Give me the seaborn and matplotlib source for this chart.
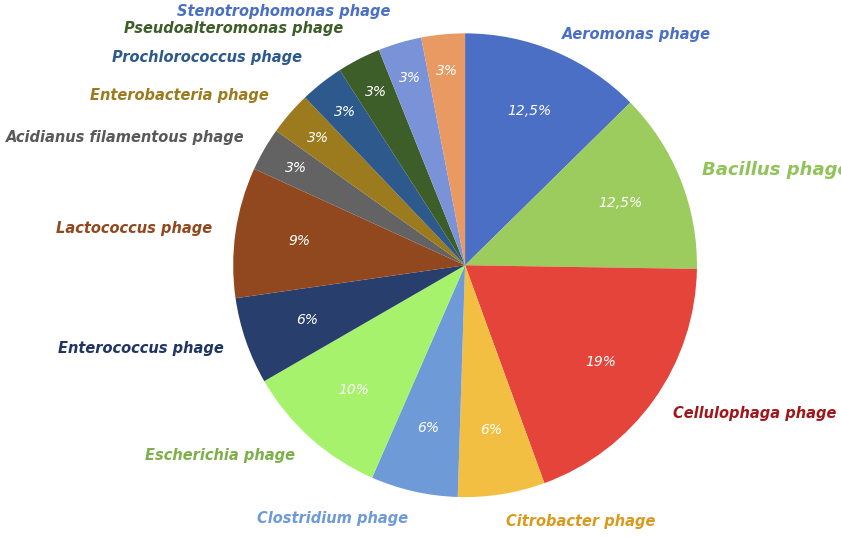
import matplotlib
matplotlib.use("Agg")
import matplotlib.pyplot as plt
import seaborn as sns
import numpy as np

names = ["Aeromonas phage", "Bacillus phage", "Cellulophaga phage", "Citrobacter phage",
         "Clostridium phage", "Escherichia phage", "Enterococcus phage", "Lactococcus phage",
         "Acidianus filamentous phage", "Enterobacteria phage", "Prochlorococcus phage",
         "Pseudoalteromonas phage", "Stenotrophomonas phage", "Synechococcus phage"]
values = [12.5, 12.5, 19, 6, 6, 10, 6, 9, 3, 3, 3, 3, 3, 3]
pct_labels = ["12,5%", "12,5%", "19%", "6%", "6%", "10%", "6%", "9%", "3%", "3%", "3%", "3%", "3%", "3%"]
colors = ["#4A6FC4", "#9CCB5E", "#E5443B", "#F2BF42", "#6E9BD8", "#A6F26C", "#283E6C",
          "#92481E", "#636363", "#9C7A1E", "#2D598C", "#3E5E29", "#7A93D8", "#E99A62"]
label_colors = ["#4A6FC4", "#92C35A", "#A0161A", "#D99A1E", "#6E9BD8", "#7DB04A", "#1F3564",
                "#92481E", "#595959", "#9C7A1E", "#2D598C", "#3E5E29", "#4A6FC4", "#E99A62"]

sns.set_theme(style="white")
fig = plt.figure(figsize=(8.41, 5.38), dpi=100)
ax = fig.add_axes([0.277, 0.076, 0.552, 0.862])
wedges, _ = ax.pie(values, colors=colors, startangle=90, counterclock=False,
                   wedgeprops=dict(linewidth=0))
ax.set_xlim(-1, 1)
ax.set_ylim(-1, 1)
ax.set_aspect("equal")
ax.axis("off")
label_r = [1.08, 1.1, 1.1, 1.12, 1.12, 1.1, 1.1, 1.1, 1.1, 1.12, 1.14, 1.15, 1.14, 1.2]
for w, p, n, lc, lr in zip(wedges, pct_labels, names, label_colors, label_r):
    ang = np.deg2rad((w.theta1 + w.theta2) / 2)
    r_in = 0.72 if w.theta2 - w.theta1 > 15 else 0.84
    ax.text(r_in * np.cos(ang), r_in * np.sin(ang), p, ha="center", va="center",
            color="white", style="italic", fontsize=10)
    x, y = lr * np.cos(ang), lr * np.sin(ang)
    ha = "left" if x > 0.05 else ("right" if x < -0.05 else "center")
    if n == "Synechococcus phage":
        ha = "left"
        x = -0.3
    fs = 13 if n == "Bacillus phage" else 10.5
    ax.text(x, y, n, ha=ha, va="center", color=lc, style="italic", fontweight="bold",
            fontsize=fs, clip_on=False)
fig.savefig("out.png", dpi=100)
